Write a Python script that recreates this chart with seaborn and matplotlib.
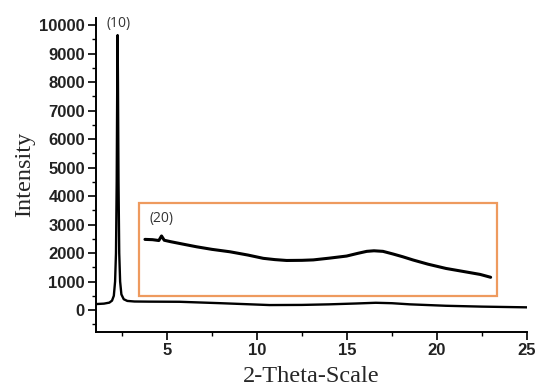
import matplotlib
matplotlib.use("Agg")
import matplotlib.pyplot as plt
from matplotlib.patches import Rectangle
from matplotlib.ticker import MultipleLocator
import seaborn as sns
import pandas as pd

# Main diffraction pattern (2-theta, intensity)
main_x = [1.06, 1.5, 1.8, 1.95, 2.05, 2.12, 2.17, 2.21, 2.24, 2.26, 2.28, 2.31,
          2.35, 2.40, 2.47, 2.6, 2.8, 3.2, 4.0, 5.7, 8.0, 10.7, 12.5, 14.0,
          15.5, 16.6, 17.5, 18.5, 20.5, 22.5, 25.0]
main_y = [210, 225, 260, 330, 500, 1000, 2000, 4500, 8000, 9650, 8000, 4500,
          2000, 1000, 550, 380, 320, 300, 295, 290, 240, 175, 180, 200,
          230, 255, 240, 200, 150, 120, 95]

# Magnified inset trace
ins_x = [3.78, 4.2, 4.55, 4.7, 4.85, 5.2, 6.0, 6.65, 7.5, 8.5, 9.5, 10.35, 11.0,
         11.65, 12.5, 13.13, 14.0, 14.98, 15.6, 16.1, 16.5, 17.0, 17.57, 18.1,
         18.68, 19.5, 20.5, 21.5, 22.4, 22.98]
ins_y = [2480, 2470, 2440, 2600, 2450, 2400, 2300, 2220, 2130, 2045, 1930, 1815,
         1770, 1740, 1745, 1760, 1820, 1895, 1990, 2060, 2080, 2060, 1965, 1870,
         1755, 1610, 1460, 1350, 1250, 1150]

# Inset frame bounds
box_x = [3.44, 23.33]
box_y = [490, 3740]

# Peak labels
peak_labels = ["(10)", "(20)"]
peak_label_x = [2.33, 4.7]
peak_label_y = [10070, 3230]

x_ticks = [5, 10, 15, 20, 25]
y_ticks = [0, 1000, 2000, 3000, 4000, 5000, 6000, 7000, 8000, 9000, 10000]

sns.set_style("ticks")
plt.rcParams["font.family"] = ["Liberation Sans", "DejaVu Sans"]

fig = plt.figure(figsize=(5.38, 3.87), dpi=100)
ax = fig.add_axes([96 / 538, 55.3 / 387, (527 - 96) / 538, (369 - 55.3) / 387])

df_main = pd.DataFrame({"x": main_x, "y": main_y})
df_ins = pd.DataFrame({"x": ins_x, "y": ins_y})
sns.lineplot(data=df_main, x="x", y="y", ax=ax, color="black", lw=1.7,
             sort=False, estimator=None)
sns.lineplot(data=df_ins, x="x", y="y", ax=ax, color="black", lw=2.2,
             sort=False, estimator=None)

ax.add_patch(Rectangle((box_x[0], box_y[0]), box_x[1] - box_x[0],
                       box_y[1] - box_y[0], fill=False,
                       edgecolor="#EE9A5E", lw=1.6))

for t, tx, ty in zip(peak_labels, peak_label_x, peak_label_y):
    ax.text(tx, ty, t, ha="center", va="center", fontsize=10,
            family=["Open Sans", "DejaVu Sans"], color="#333333")

ax.set_xlim(1.06, 25)
ax.set_ylim(-760, 10250)
ax.set_xticks(x_ticks)
ax.set_yticks(y_ticks)
ax.xaxis.set_minor_locator(MultipleLocator(2.5))
ax.yaxis.set_minor_locator(MultipleLocator(500))
ax.tick_params(axis="both", which="major", length=5.5, width=1.2, direction="out",
               labelsize=12, pad=2.5, color="black")
ax.tick_params(axis="both", which="minor", length=3, width=1.0, direction="out",
               color="black")
for lab in ax.get_xticklabels() + ax.get_yticklabels():
    lab.set_fontweight("bold")
    lab.set_color("#222222")

sns.despine(ax=ax)
for s in ("left", "bottom"):
    ax.spines[s].set_linewidth(1.4)
    ax.spines[s].set_color("black")

ax.set_xlabel("2-Theta-Scale", family=["Liberation Serif", "DejaVu Serif"],
              fontsize=17.5, labelpad=6)
ax.set_ylabel("Intensity", family=["Liberation Serif", "DejaVu Serif"],
              fontsize=17.5, labelpad=3)

fig.savefig("out.png", dpi=100, facecolor="white")
